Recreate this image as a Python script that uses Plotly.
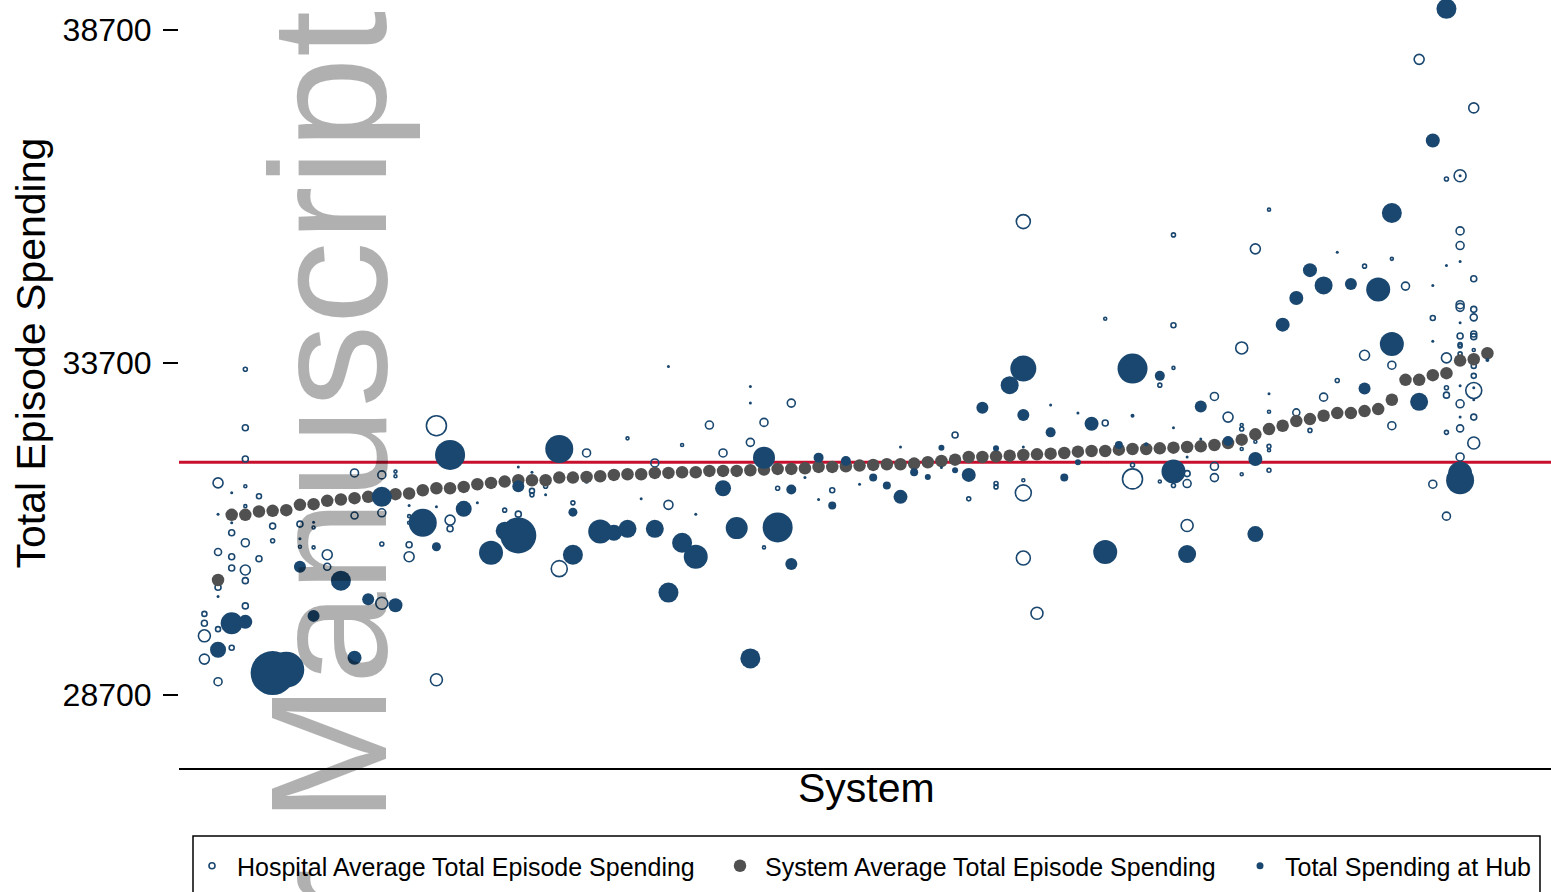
import plotly.graph_objects as go

# ---------------- data ----------------
system_index = list(range(1, 95))
system_avg = [
    30430, 31410, 31410, 31460, 31470, 31480, 31560, 31570, 31620, 31640,
    31660, 31680, 31690, 31720, 31730, 31780, 31810, 31810, 31830, 31870,
    31890, 31910, 31930, 31930, 31930, 31970, 31970, 31980, 31990, 32010,
    32020, 32020, 32040, 32040, 32050, 32050, 32070, 32070, 32070, 32080,
    32090, 32100, 32100, 32110, 32130, 32130, 32140, 32150, 32160, 32170,
    32170, 32180, 32200, 32220, 32240, 32280, 32280, 32290, 32300, 32310,
    32320, 32330, 32340, 32360, 32370, 32370, 32390, 32400, 32400, 32410,
    32420, 32430, 32440, 32460, 32490, 32540, 32620, 32700, 32750, 32820,
    32850, 32900, 32940, 32940, 32970, 33000, 33140, 33440, 33440, 33510,
    33540, 33730, 33750, 33840]

hub_system = [
    1, 1, 1, 2, 2, 2, 3, 5, 6, 7, 7, 8, 8, 10, 11, 12, 13, 14, 15, 16,
    17, 17, 18, 19, 20, 21, 22, 23, 23, 23, 24, 25, 26, 27, 27, 29, 30, 31, 32, 33,
    34, 34, 35, 36, 36, 38, 39, 40, 40, 40, 41, 42, 43, 43, 44, 45, 45, 46, 47, 48,
    49, 50, 51, 51, 52, 53, 54, 54, 55, 56, 57, 58, 59, 60, 60, 60, 62, 62, 63, 64,
    64, 65, 66, 67, 68, 68, 69, 70, 71, 71, 72, 72, 73, 73, 75, 77, 77, 78, 79, 80,
    81, 82, 83, 84, 85, 86, 87, 87, 89, 90, 90, 90, 91, 91, 92, 92, 92, 92, 92, 92,
    92, 93, 93, 94]
hub_spend = [
    31420, 30180, 29380, 31740, 31290, 29780, 29800, 29030, 29080, 31050,
    30630, 31300, 29890, 30420, 29260, 30140, 31680, 30050, 31550, 31290,
    31530, 30930, 32310, 31500, 31590, 30840, 31170, 32130, 31840, 31100,
    32050, 31710, 32400, 31450, 30810, 31160, 31140, 31200, 31650, 31200,
    33640, 30240, 30990, 31420, 30780, 31810, 31210, 33340, 33090, 29250,
    32270, 31220, 31790, 30670, 31970, 32270, 31640, 31550, 32220, 31870,
    31970, 31850, 32430, 31680, 32050, 31980, 32420, 32120, 32080, 32010,
    33020, 32410, 33360, 33610, 32910, 32430, 33060, 32650, 31970, 32940,
    32200, 32780, 30850, 32460, 33610, 32900, 32470, 33500, 32720, 32060,
    32280, 30820, 33040, 32550, 32520, 32250, 31120, 33230, 34270, 34670,
    35090, 34860, 35360, 34880, 33310, 34800, 35950, 33980, 33110, 37040,
    34860, 34020, 39020, 35160, 36510, 35220, 34300, 33350, 32880, 32030,
    31930, 33320, 33140, 33740]
hub_weight = [
    3, 3, 16, 3, 3, 22, 14, 44, 36, 3, 12, 3, 12, 20, 14, 12, 20, 14, 3, 28,
    3, 9, 30, 16, 3, 24, 18, 3, 12, 36, 3, 3, 28, 9, 20, 24, 16, 18, 3, 18,
    3, 20, 20, 3, 24, 16, 22, 3, 3, 20, 22, 30, 10, 12, 3, 10, 3, 8, 10, 3,
    8, 8, 3, 14, 8, 6, 6, 3, 6, 14, 12, 6, 18, 26, 12, 3, 3, 10, 8, 3,
    6, 14, 24, 8, 30, 4, 4, 10, 3, 24, 3, 18, 12, 3, 10, 14, 16, 3, 14, 14,
    14, 18, 3, 12, 12, 24, 20, 24, 18, 14, 3, 3, 20, 3, 3, 3, 3, 3, 3, 24,
    28, 3, 3, 4]

hosp_system = [
    0, 0, 0, 0,
    1, 1, 1, 1, 1,
    2, 2, 2, 2,
    3, 3, 3, 3, 3, 3, 3, 3, 3,
    4, 4, 5, 5, 7, 7, 8, 8, 9, 9, 11, 11,
    13, 13, 13, 13, 14, 14, 15, 15, 15, 15, 17, 17, 18, 18,
    22, 23, 24, 24, 25, 26, 27, 28, 28, 31, 33, 34, 35, 37, 38, 40, 41, 41, 42, 43, 46,
    55, 56, 58, 58, 60, 60, 60, 60, 61, 66, 66, 68, 68, 70, 70,
    71, 71, 71, 71, 72, 72, 72, 74, 74, 74, 75,
    76, 76, 76, 76, 76, 77, 77, 78, 78, 78, 78, 78,
    80, 81, 82, 83, 85, 85, 87, 87, 87, 88, 89, 90, 90,
    91, 91, 91, 91, 91, 91,
    92, 92, 92, 92, 92, 92, 92, 92, 92, 92, 92, 92,
    93, 93, 93, 93, 93, 93, 93, 93, 93, 93, 93, 93]
hosp_spend = [
    29920, 29780, 29590, 29240,
    31890, 30850, 30320, 29690, 28900,
    31140, 30780, 30610, 29410,
    33600, 32720, 32250, 31840, 31540, 30990, 30580, 30420, 30040,
    31690, 30750, 31240, 31020, 31270, 30930, 31220, 30920, 30810, 30630, 32040, 31400,
    32010, 31440, 30970, 30080, 32060, 31990, 31390, 31290, 30960, 30780, 32750, 28930, 31330, 31200,
    31480, 31420, 31770, 31710, 31840, 30600, 31590, 32340, 31910, 32560, 32190, 31560, 32460,
    32760, 32340, 32500, 32800, 30920, 31810, 33090, 31780,
    32610, 31650, 31880, 31830, 35820, 31930, 31740, 30760, 29930, 34360, 32790, 32160, 31950, 33360, 31910,
    35620, 34260, 33620, 31850, 32030, 31880, 31250, 33190, 32140, 31970, 32880,
    33920, 32760, 32700, 32400, 32020, 35410, 32510, 36000, 32960, 32440, 32380, 32080,
    32950, 32680, 33180, 33430, 35150, 33810, 35260, 33660, 32750, 34850, 38260, 34370, 31870,
    36460, 33770, 33320, 33210, 32650, 31390,
    36510, 35680, 35460, 34570, 34530, 34100, 33970, 33950, 33830, 33080, 32710, 32280,
    37530, 34960, 34500, 34380, 34130, 34090, 33890, 33650, 33500, 33280, 32880, 32490]
hosp_weight = [
    5, 6, 12, 10,
    10, 7, 6, 5, 8,
    6, 6, 6, 5,
    4, 6, 6, 3, 3, 8, 10, 6, 6,
    5, 6, 6, 4, 6, 3, 3, 3, 10, 7, 8, 7,
    8, 8, 4, 12, 3, 3, 3, 3, 6, 10, 20, 12, 10, 6,
    4, 6, 5, 4, 4, 16, 4, 8, 3, 3, 8, 9, 3, 8, 8, 8, 8, 3, 4, 8, 5,
    6, 4, 4, 4, 14, 3, 16, 14, 12, 3, 6, 4, 20, 4, 3,
    4, 5, 3, 4, 6, 8, 12, 8, 8, 8, 10,
    12, 3, 4, 3, 3, 10, 3, 3, 3, 4, 3, 4,
    7, 4, 8, 4, 4, 10, 3, 8, 8, 8, 10, 5, 8,
    4, 10, 4, 6, 4, 8,
    12, 8, 8, 8, 8, 6, 4, 4, 4, 8, 7, 8,
    10, 6, 6, 7, 6, 6, 3, 5, 5, 16, 6, 12]

overall_avg = 32200
y_ticks = [28700, 33700, 38700]
legend_names = ["Hospital Average Total Episode Spending",
                "System Average Total Episode Spending",
                "Total Spending at Hub"]

# ---------------- styling ----------------
NAVY = "#1a476f"
GREY = "#505050"
RED = "#c8102e"
FONT = "Liberation Sans, Arial, Helvetica, sans-serif"
W, H = 1551, 892
ML, MR, MT, MB = 179, 0, 0, 124
PW, PH = W - ML - MR, H - MT - MB


def fx(p):
    return (p - ML) / PW


def fy(p):
    return (H - MB - p) / PH


fig = go.Figure()

fig.add_trace(go.Scatter(
    x=hosp_system, y=hosp_spend, mode="markers", showlegend=False, hoverinfo="skip",
    marker=dict(symbol="circle-open", size=[w * 1.0 for w in hosp_weight], color=NAVY, opacity=1,
                line=dict(width=1.6, color=NAVY))))
fig.add_trace(go.Scatter(
    x=system_index, y=system_avg, mode="markers", showlegend=False, hoverinfo="skip",
    marker=dict(symbol="circle", size=12.5, color=GREY, opacity=1, line=dict(width=0))))
fig.add_trace(go.Scatter(
    x=hub_system, y=hub_spend, mode="markers", showlegend=False, hoverinfo="skip", cliponaxis=False,
    marker=dict(symbol="circle", size=[w * 1.0 for w in hub_weight], color=NAVY, opacity=1,
                line=dict(width=0))))

# legend entries
fig.add_trace(go.Scatter(x=[None], y=[None], mode="markers", name=legend_names[0], legendwidth=473,
                         marker=dict(symbol="circle-open", size=6, color=NAVY, opacity=1,
                                     line=dict(width=1.6, color=NAVY))))
fig.add_trace(go.Scatter(x=[None], y=[None], mode="markers", name=legend_names[1], legendwidth=465,
                         marker=dict(symbol="circle", size=12.5, color=GREY, opacity=1)))
fig.add_trace(go.Scatter(x=[None], y=[None], mode="markers", name=legend_names[2],
                         marker=dict(symbol="circle", size=7, color=NAVY, opacity=1)))

fig.add_shape(type="line", xref="paper", x0=0, x1=1, yref="y", y0=overall_avg, y1=overall_avg,
              line=dict(color=RED, width=3), layer="below")
fig.add_shape(type="rect", xref="paper", yref="paper", x0=fx(193), x1=fx(1540), y0=fy(836), y1=fy(960),
              line=dict(color="black", width=1.5), fillcolor="rgba(0,0,0,0)")

fig.add_annotation(text="Total Episode Spending", xref="paper", yref="paper", x=fx(30), y=fy(353.5),
                   textangle=-90, showarrow=False, xanchor="center", yanchor="middle",
                   font=dict(family=FONT, size=41, color="black"))
fig.add_annotation(text="System", xref="paper", yref="paper", x=fx(866), y=fy(788),
                   showarrow=False, xanchor="center", yanchor="middle",
                   font=dict(family=FONT, size=41, color="black"))
fig.add_annotation(text="Author Manuscript", xref="paper", yref="paper", x=fx(328), y=fy(685),
                   textangle=-90, showarrow=False, xanchor="center", yanchor="middle",
                   font=dict(family=FONT, size=166, color="rgba(0,0,0,0.31)"))

fig.update_layout(
    width=W, height=H,
    margin=dict(l=ML, r=MR, t=MT, b=MB, autoexpand=False),
    paper_bgcolor="white", plot_bgcolor="white",
    font=dict(family=FONT, color="black"),
    showlegend=True,
    legend=dict(orientation="h", x=fx(187), xanchor="left", y=fy(843), yanchor="top",
                font=dict(family=FONT, size=25, color="black"), itemwidth=40,
                bgcolor="rgba(0,0,0,0)", borderwidth=0, itemsizing="trace"),
    xaxis=dict(range=[-1.86, 98.66], showline=True, linecolor="black", linewidth=2,
               showticklabels=False, ticks="", showgrid=False, zeroline=False),
    yaxis=dict(range=[27602, 39153], tickmode="array", tickvals=y_ticks,
               ticktext=[str(v) for v in y_ticks], ticks="outside", ticklen=15, tickwidth=2,
               tickcolor="black", showline=False, showgrid=False, zeroline=False,
               tickfont=dict(family=FONT, size=32, color="black"), ticklabelstandoff=5),
)

fig.write_html("out.html", config={"displayModeBar": False},
               post_script="document.body.style.margin='0';")
